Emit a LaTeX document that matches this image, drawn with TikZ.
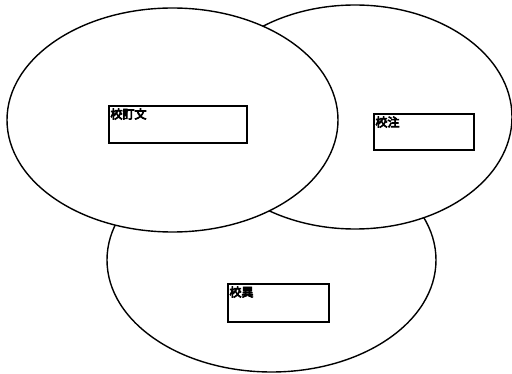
\documentclass[tikz,border=0pt]{standalone}
\usepackage{fontspec}
\newfontfamily\jpfont{Noto Sans CJK JP}
\newcommand{\heavytext}[1]{\special{pdf:literal direct 2 Tr 0.7 w 0 G}#1\special{pdf:literal direct 0 Tr}}
\usetikzlibrary{shapes.geometric}
\begin{document}
\begin{tikzpicture}[x=1pt,y=-1pt,
  circ/.style={ellipse, draw=black, line width=1.4pt, fill=white, inner sep=0pt, outer sep=0pt},
  box/.style={rectangle, draw=black, line width=1.4pt, fill=white, inner sep=0pt},
  lbl/.style={anchor=north west, inner sep=0pt, font=\jpfont\fontsize{12}{12}\selectfont}]
\fill[white] (0,0) rectangle (512,374);
\useasboundingbox (0,0) rectangle (512,374);
% ellipses (bottom first, then right, then left on top)
\node[circ, minimum width=329pt, minimum height=224pt] (E3) at (271.5,260) {};
\node[circ, minimum width=314pt, minimum height=224pt] (E2) at (355,117) {};
\node[circ, minimum width=331pt, minimum height=224pt] (E1) at (172.5,120) {};
% boxes
\node[box, minimum width=138pt, minimum height=37pt] (B1) at (178,124.5) {};
\node[box, minimum width=100pt, minimum height=36pt] (B2) at (424,132) {};
\node[box, minimum width=101pt, minimum height=38pt] (B3) at (278.5,303) {};
% labels
\node[lbl] (T1) at ([shift={(2,3)}]B1.north west) {\heavytext{校訂文}};
\node[lbl] (T2) at ([shift={(2,3)}]B2.north west) {\heavytext{校注}};
\node[lbl] (T3) at ([shift={(2,3)}]B3.north west) {\heavytext{校異}};
\end{tikzpicture}
\end{document}
